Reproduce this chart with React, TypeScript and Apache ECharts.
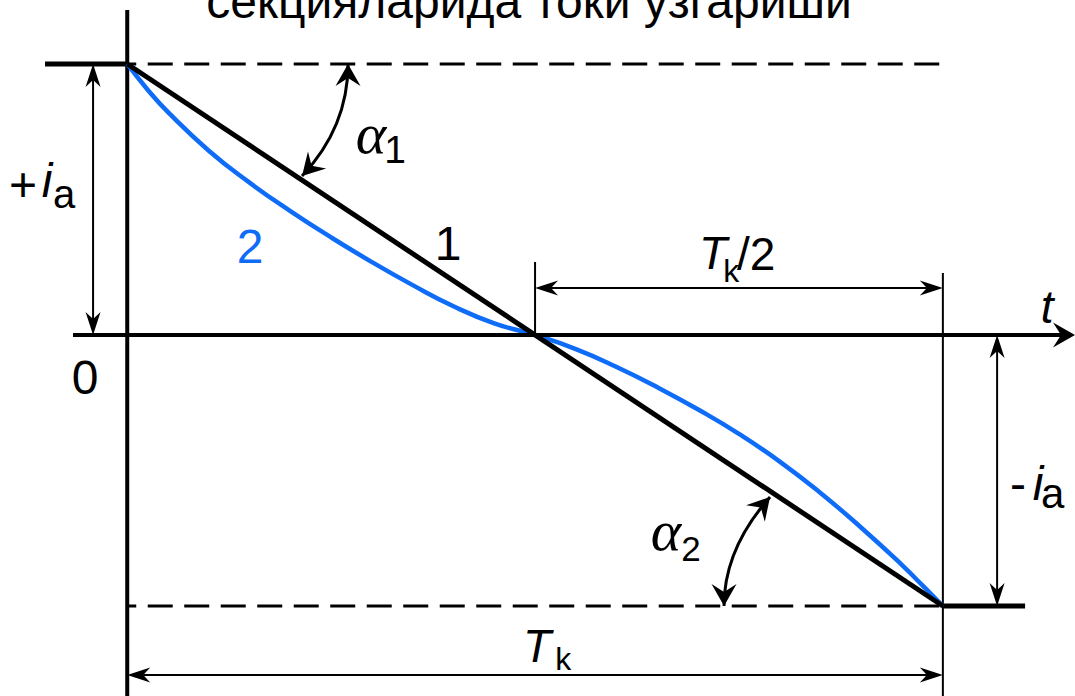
import React, { useEffect, useRef } from 'react';
import * as echarts from 'echarts';

// Commutation current in a section: 1 - linear change, 2 - delayed change over the period T_k
const LINE1_T = [0, 1];
const LINE1_I = [1, -1];

const CURVE2_T = [0, 0.025, 0.05, 0.1, 0.15, 0.2, 0.25, 0.3, 0.35, 0.4, 0.45, 0.5,
  0.55, 0.6, 0.65, 0.7, 0.75, 0.8, 0.85, 0.9, 0.95, 0.975, 1];
const CURVE2_I = [1, 0.905, 0.822, 0.68, 0.562, 0.457, 0.36, 0.269, 0.184, 0.106, 0.043, 0,
  -0.052, -0.118, -0.193, -0.275, -0.365, -0.467, -0.583, -0.711, -0.849, -0.924, -1];

const TITLE = 'секцияларида токи ўзгариши';

// Visible window of the (t, i) plane
const X_RANGE = [-0.156, 1.162];
const Y_RANGE = [-1.332, 1.236];

const INK = '#000000';
const BLUE = '#0f6cf7';
const FONT = '"Liberation Sans", Arial, Helvetica, sans-serif';
const GREEK_FONT = '"Liberation Serif", "Times New Roman", serif';

type Pt = [number, number];
type Head = { len: number; half: number; notch: number };

const BIG_HEAD: Head = { len: 22, half: 12.5, notch: 8 };
const DIM_HEAD: Head = { len: 23, half: 7.5, notch: 7 };

// Plain strokes: axes, level lines, extension lines
const SEGMENTS: { from: Pt; to: Pt; width: number; dash?: number[]; dashOffset?: number }[] = [
  { from: [0, 1.199], to: [0, -1.34], width: 4 },
  { from: [-0.1008, 1], to: [0, 1], width: 5 },
  { from: [1, -1], to: [1.1008, -1], width: 5 },
  { from: [0, 1], to: [1.003, 1], width: 3, dash: [25, 11.5], dashOffset: 16 },
  { from: [0, -1], to: [1, -1], width: 3, dash: [25, 11.5], dashOffset: 16 },
  { from: [0.5, 0], to: [0.5, 0.2694], width: 2 },
  { from: [1, 0.2288], to: [1, -1.34], width: 2 },
];

// Straight arrows: time axis and dimension lines
const ARROWS: { from: Pt; to: Pt; width: number; both: boolean; head: Head }[] = [
  { from: [-0.0665, 0], to: [1.162, 0], width: 4, both: false, head: BIG_HEAD },
  { from: [0.5, 0.1734], to: [1, 0.1734], width: 2, both: true, head: DIM_HEAD },
  { from: [0, -1.2546], to: [1, -1.2546], width: 2, both: true, head: DIM_HEAD },
  { from: [-0.0419, 1], to: [-0.0419, 0], width: 2, both: true, head: DIM_HEAD },
  { from: [1.0665, 0], to: [1.0665, -1], width: 2, both: true, head: DIM_HEAD },
];

// Angle arcs α1 and α2
const ARCS: { from: Pt; ctrl: Pt; to: Pt; width: number; head: Head }[] = [
  { from: [0.2707, 1.0], ctrl: [0.2707, 0.7675], to: [0.2143, 0.5867], width: 3, head: BIG_HEAD },
  { from: [0.7881, -0.5978], ctrl: [0.7317, -0.7897], to: [0.7317, -1.0], width: 3, head: BIG_HEAD },
];

const LABELS: { text: string; at: Pt; size: number; italic?: boolean; color?: string; family?: string }[] = [
  { text: TITLE, at: [0.4926, 1.231], size: 48 },
  { text: '1', at: [0.3933, 0.3358], size: 48 },
  { text: '2', at: [0.1506, 0.3247], size: 48, color: BLUE },
  { text: '0', at: [-0.0517, -0.155], size: 48 },
  { text: 't', at: [1.1278, 0.1033], size: 46, italic: true },
  { text: '+', at: [-0.1278, 0.557], size: 48 },
  { text: 'i', at: [-0.0983, 0.5705], size: 48, italic: true },
  { text: 'a', at: [-0.0775, 0.5203], size: 40 },
  { text: '-', at: [1.0922, -0.5487], size: 48 },
  { text: 'i', at: [1.1167, -0.5476], size: 48, italic: true },
  { text: 'a', at: [1.1345, -0.5845], size: 42 },
  { text: 'α', at: [0.2989, 0.745], size: 58, italic: true, family: GREEK_FONT },
  { text: '1', at: [0.3283, 0.6845], size: 39 },
  { text: 'α', at: [0.6606, -0.72], size: 58, italic: true, family: GREEK_FONT },
  { text: '2', at: [0.6913, -0.786], size: 35 },
  { text: 'T', at: [0.7182, 0.3007], size: 46, italic: true },
  { text: 'k', at: [0.7405, 0.2362], size: 32 },
  { text: '/2', at: [0.771, 0.2989], size: 46 },
  { text: 'T', at: [0.5025, -1.1476], size: 46, italic: true },
  { text: 'k', at: [0.5345, -1.1956], size: 32 },
];

const unit = (a: number[], b: number[]) => {
  const dx = b[0] - a[0];
  const dy = b[1] - a[1];
  const l = Math.hypot(dx, dy) || 1;
  return [dx / l, dy / l];
};

// Arrowhead with its tip at `tip`, pointing along `dir`
const arrowHead = (tip: number[], dir: number[], h: Head) => {
  const [dx, dy] = dir;
  const nx = -dy;
  const ny = dx;
  const bx = tip[0] - dx * h.len;
  const by = tip[1] - dy * h.len;
  return {
    type: 'polygon',
    shape: {
      points: [
        [tip[0], tip[1]],
        [bx + nx * h.half, by + ny * h.half],
        [tip[0] - dx * (h.len - h.notch), tip[1] - dy * (h.len - h.notch)],
        [bx - nx * h.half, by - ny * h.half],
      ],
    },
    style: { fill: INK, stroke: 'none' },
  };
};

const indexData = (n: number) => Array.from({ length: n }, (_, i) => [i, 0]);

function buildOption() {
  return {
    animation: false,
    backgroundColor: '#ffffff',
    grid: { left: 0, right: 0, top: 0, bottom: 0, containLabel: false },
    xAxis: { type: 'value', min: X_RANGE[0], max: X_RANGE[1], show: false },
    yAxis: { type: 'value', min: Y_RANGE[0], max: Y_RANGE[1], show: false },
    series: [
      {
        type: 'custom',
        name: 'segments',
        z: 2,
        silent: true,
        data: indexData(SEGMENTS.length),
        renderItem: (params: any, api: any) => {
          const s = SEGMENTS[params.dataIndex];
          const a = api.coord(s.from);
          const b = api.coord(s.to);
          return {
            type: 'line',
            shape: { x1: a[0], y1: a[1], x2: b[0], y2: b[1] },
            style: {
              stroke: INK,
              fill: 'none',
              lineWidth: s.width,
              lineDash: s.dash || null,
              lineDashOffset: s.dashOffset || 0,
            },
          };
        },
      },
      {
        type: 'line',
        name: '2',
        z: 3,
        data: CURVE2_T.map((t, i) => [t, CURVE2_I[i]]),
        smooth: 0.5,
        symbol: 'none',
        lineStyle: { color: BLUE, width: 4.5 },
        silent: true,
      },
      {
        type: 'line',
        name: '1',
        z: 4,
        data: LINE1_T.map((t, i) => [t, LINE1_I[i]]),
        symbol: 'none',
        lineStyle: { color: INK, width: 5 },
        silent: true,
      },
      {
        type: 'custom',
        name: 'arrows',
        z: 5,
        silent: true,
        data: indexData(ARROWS.length),
        renderItem: (params: any, api: any) => {
          const ar = ARROWS[params.dataIndex];
          const p1 = api.coord(ar.from);
          const p2 = api.coord(ar.to);
          const d = unit(p1, p2);
          const back = ar.head.len - ar.head.notch;
          const s = ar.both ? [p1[0] + d[0] * back, p1[1] + d[1] * back] : p1;
          const e = [p2[0] - d[0] * back, p2[1] - d[1] * back];
          const children: any[] = [
            {
              type: 'line',
              shape: { x1: s[0], y1: s[1], x2: e[0], y2: e[1] },
              style: { stroke: INK, fill: 'none', lineWidth: ar.width },
            },
            arrowHead(p2, d, ar.head),
          ];
          if (ar.both) children.push(arrowHead(p1, [-d[0], -d[1]], ar.head));
          return { type: 'group', children };
        },
      },
      {
        type: 'custom',
        name: 'arcs',
        z: 5,
        silent: true,
        data: indexData(ARCS.length),
        renderItem: (params: any, api: any) => {
          const arc = ARCS[params.dataIndex];
          const p1 = api.coord(arc.from);
          const c = api.coord(arc.ctrl);
          const p2 = api.coord(arc.to);
          return {
            type: 'group',
            children: [
              {
                type: 'bezierCurve',
                shape: { x1: p1[0], y1: p1[1], x2: p2[0], y2: p2[1], cpx1: c[0], cpy1: c[1] },
                style: { stroke: INK, fill: 'none', lineWidth: arc.width },
              },
              arrowHead(p1, unit(c, p1), arc.head),
              arrowHead(p2, unit(c, p2), arc.head),
            ],
          };
        },
      },
      {
        type: 'custom',
        name: 'labels',
        z: 10,
        silent: true,
        data: indexData(LABELS.length),
        renderItem: (params: any, api: any) => {
          const lb = LABELS[params.dataIndex];
          const p = api.coord(lb.at);
          return {
            type: 'text',
            x: p[0],
            y: p[1],
            style: {
              text: lb.text,
              fill: lb.color || INK,
              font: `${lb.italic ? 'italic ' : ''}${lb.size}px ${lb.family || FONT}`,
              align: 'center',
              verticalAlign: 'middle',
            },
          };
        },
      },
    ],
  };
}

export default function App() {
  const ref = useRef<HTMLDivElement>(null);
  useEffect(() => {
    if (!ref.current) return;
    const chart = echarts.init(ref.current, null, { renderer: 'svg' });
    chart.setOption(buildOption() as any);
    return () => chart.dispose();
  }, []);
  return (
    <div
      ref={ref}
      style={{ position: 'absolute', left: 0, top: 0, width: 1075, height: 696, background: '#ffffff' }}
    />
  );
}
